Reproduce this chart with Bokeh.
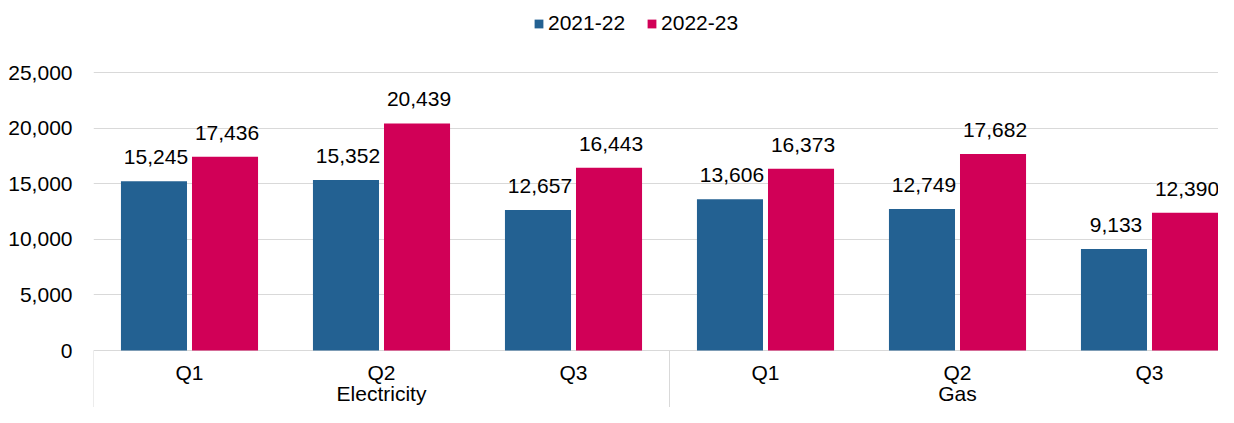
from bokeh.plotting import figure
from bokeh.models import (Range1d, FixedTicker, NumeralTickFormatter, ColumnDataSource,
                          Legend, LegendItem)
from bokeh.embed import file_html
from bokeh.resources import INLINE
from bokeh.core.properties import value

# ---- data ----
groups = ["Electricity", "Gas"]
quarters = ["Q1", "Q2", "Q3"]
series = ["2021-22", "2022-23"]
values_2021_22 = [15245, 15352, 12657, 13606, 12749, 9133]
values_2022_23 = [17436, 20439, 16443, 16373, 17682, 12390]
y_ticks = [0, 5000, 10000, 15000, 20000, 25000]
colors = ["#236192", "#D10057"]

# ---- layout constants (pixels) ----
W, H = 1218, 407
frame_left = 93
cat_px = 192.0
zero_y = 350.0
ppu = 277.7 / 25000.0
FONT = "Liberation Sans"
FS = "21px"
GRID = "#d9d9d9"

n_cat = len(groups) * len(quarters)
x_range = Range1d(0, (W - frame_left) / cat_px)
y_range = Range1d(-(H - zero_y) / ppu, zero_y / ppu)

p = figure(width=W, height=H, x_range=x_range, y_range=y_range,
           output_backend="svg", toolbar_location=None, x_axis_type=None,
           min_border=0, min_border_left=frame_left)
p.outline_line_color = None
p.background_fill_color = "white"
p.border_fill_color = "white"

# y axis
p.yaxis.ticker = FixedTicker(ticks=y_ticks)
p.yaxis.formatter = NumeralTickFormatter(format="0,0")
p.yaxis.axis_line_color = None
p.yaxis.major_tick_line_color = None
p.yaxis.minor_tick_line_color = None
p.yaxis.major_tick_out = 0
p.yaxis.major_tick_in = 0
p.yaxis.major_label_standoff = 21
p.yaxis.major_label_text_font = FONT
p.yaxis.major_label_text_font_size = FS
p.yaxis.major_label_text_color = "#000000"
p.ygrid.ticker = FixedTicker(ticks=y_ticks)
p.ygrid.grid_line_color = GRID
p.ygrid.grid_line_width = 1
p.xgrid.visible = False

# category separators
sep_x = [0, len(quarters), n_cat]
p.segment(x0=sep_x, x1=sep_x, y0=[0] * 3, y1=[y_range.start] * 3,
          line_color=GRID, line_width=1)

offset = 0.185
bar_w = 0.344
cat_idx = list(range(n_cat))
renderers = []
for k, (vals, col) in enumerate(zip([values_2021_22, values_2022_23], colors)):
    xs = [i + 0.5 + (-offset if k == 0 else offset) for i in cat_idx]
    src = ColumnDataSource(dict(x=xs, top=vals, lab=[f"{v:,}" for v in vals]))
    r = p.vbar(x="x", top="top", bottom=0, width=bar_w, source=src,
               fill_color=col, line_color=None)
    renderers.append(r)
    p.text(x="x", y="top", text="lab", source=src, x_offset=2, y_offset=-24,
           text_align="center", text_baseline="alphabetic",
           text_font=value(FONT), text_font_size=FS, text_color="#000000")

# category labels
q_labels = [q for _ in groups for q in quarters]
p.text(x=[i + 0.5 for i in cat_idx], y=[0] * n_cat, text=q_labels,
       y_offset=22, text_align="center", text_baseline="alphabetic",
       text_font=value(FONT), text_font_size=FS, text_color="#000000")
p.text(x=[g * len(quarters) + len(quarters) / 2 for g in range(len(groups))],
       y=[0] * len(groups), text=groups,
       y_offset=43, text_align="center", text_baseline="alphabetic",
       text_font=value(FONT), text_font_size=FS, text_color="#000000")

legend = Legend(items=[LegendItem(label=s, renderers=[r]) for s, r in zip(series, renderers)],
                orientation="horizontal", location=(440, 372),
                glyph_width=11, glyph_height=11, label_standoff=4, spacing=21,
                padding=0, margin=0, border_line_color=None,
                background_fill_alpha=0, label_text_font=FONT,
                label_text_font_size=FS, label_text_color="#000000",
                label_height=21)
p.add_layout(legend, "center")

open("out.html", "w").write(file_html(p, INLINE))
